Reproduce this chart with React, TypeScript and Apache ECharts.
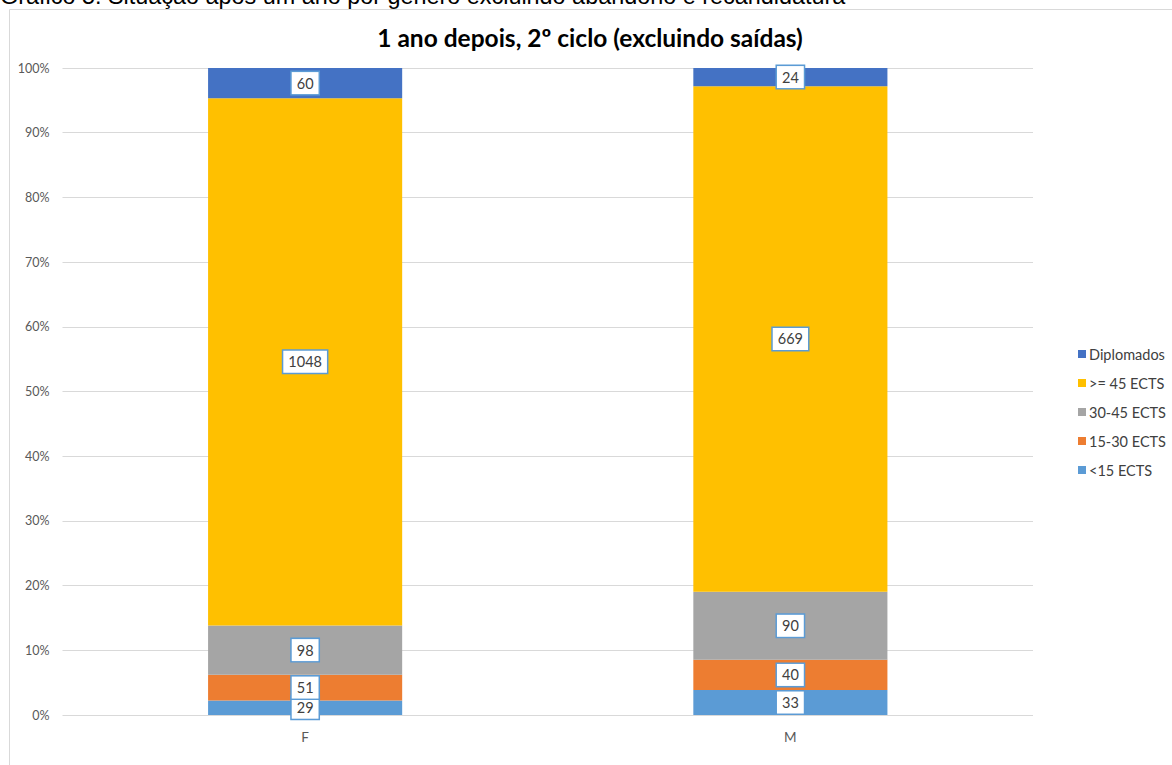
import React, { useEffect, useRef } from "react";
import * as echarts from "echarts";

const categories = ["F", "M"];
const seriesNames = ["<15 ECTS", "15-30 ECTS", "30-45 ECTS", ">= 45 ECTS", "Diplomados"];
const lt15 = [29, 33];
const e15to30 = [51, 40];
const e30to45 = [98, 90];
const ge45 = [1048, 669];
const diplomados = [60, 24];
const seriesColors = ["#5b9bd5", "#ed7d31", "#a5a5a5", "#ffc000", "#4472c4"];
const legendOrder = ["Diplomados", ">= 45 ECTS", "30-45 ECTS", "15-30 ECTS", "<15 ECTS"];
const yTicks = [0, 10, 20, 30, 40, 50, 60, 70, 80, 90, 100];

const caption = "Gráfico 5: Situação após um ano por género excluindo abandono e recandidatura";
const title = "1 ano depois, 2º ciclo (excluindo saídas)";

export default function App() {
  const ref = useRef<HTMLDivElement>(null);
  useEffect(() => {
    if (!ref.current) return;
    const chart = echarts.init(ref.current, null, { renderer: "svg" });
    const all = [lt15, e15to30, e30to45, ge45, diplomados];
    const totals = categories.map((_, i) => all.reduce((s, a) => s + a[i], 0));
    const font = "Lato, Open Sans, sans-serif";
    chart.setOption({
      animation: false,
      backgroundColor: "#ffffff",
      textStyle: { fontFamily: font },
      grid: { left: 62.5, right: 139, top: 68, bottom: 50, containLabel: false },
      legend: {
        orient: "vertical",
        left: 1073,
        top: 341,
        itemWidth: 8,
        itemHeight: 8,
        itemGap: 13,
        icon: "rect",
        data: legendOrder,
        textStyle: { fontSize: 14.5, color: "#404040", fontFamily: font, padding: [0, 0, 0, -2], lineHeight: 16 },
      },
      xAxis: {
        type: "category",
        data: categories,
        axisLine: { show: false },
        axisTick: { show: false },
        axisLabel: { color: "#595959", fontSize: 13.5, margin: 15, fontFamily: font },
      },
      yAxis: {
        type: "value",
        min: yTicks[0],
        max: yTicks[yTicks.length - 1],
        interval: 10,
        axisLine: { show: false },
        axisTick: { show: false },
        axisLabel: { color: "#595959", fontSize: 12.5, margin: 13, formatter: "{value}%", fontFamily: font },
        splitLine: { lineStyle: { color: "#d9d9d9", width: 1 } },
      },
      series: seriesNames.map((name, si) => ({
        name,
        type: "bar",
        stack: "total",
        barWidth: "40%",
        itemStyle: { color: seriesColors[si] },
        label: {
          show: true,
          position: "inside",
          formatter: (p: any) => String(all[si][p.dataIndex]),
          color: "#404040",
          fontSize: 14.5,
          fontFamily: font,
          backgroundColor: "#ffffff",
          borderColor: "#5b9bd5",
          borderWidth: 1.5,
          padding: [4, 5, 3, 5],
        },
        data: categories.map((_, i) => (all[si][i] / totals[i]) * 100),
      })),
      graphic: [
        {
          type: "rect",
          shape: { x: 9.5, y: 9.5, width: 1300, height: 900 },
          style: { fill: "none", stroke: "#d9d9d9", lineWidth: 1 },
          silent: true,
        },
        {
          type: "text",
          x: 0,
          y: -4,
          style: {
            text: caption,
            fontSize: 23.4,
            fontFamily: "Liberation Sans, Arial, sans-serif",
            fill: "#000000",
            verticalAlign: "middle",
            align: "left",
          },
        },
        {
          type: "text",
          x: 590,
          y: 37,
          style: {
            text: title,
            fontSize: 24.5,
            fontWeight: "bold",
            fontFamily: font,
            fill: "#000000",
            verticalAlign: "middle",
            align: "center",
          },
        },
      ],
    });
    return () => chart.dispose();
  }, []);
  return (
    <div
      ref={ref}
      style={{ position: "fixed", left: 0, top: 0, width: 1172, height: 765 }}
    />
  );
}
